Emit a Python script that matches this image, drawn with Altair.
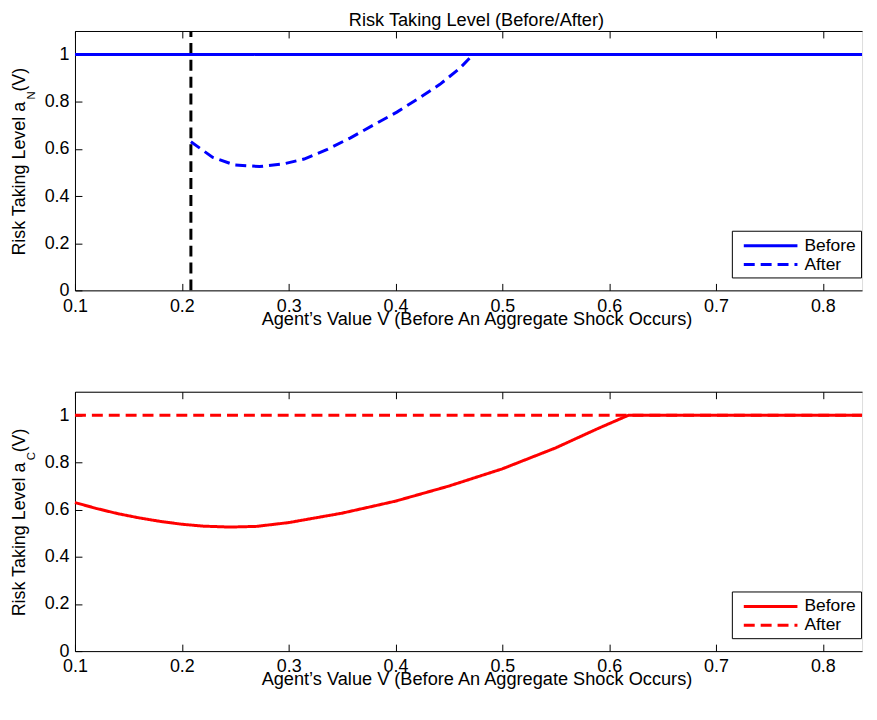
import altair as alt
import pandas as pd

FONT = "Liberation Sans"

# ---------------- data ----------------
x_ticks = [0.1, 0.2, 0.3, 0.4, 0.5, 0.6, 0.7, 0.8]
y_ticks = [0, 0.2, 0.4, 0.6, 0.8, 1]
X_DOMAIN = [0.1, 0.8367]
Y_DOMAIN = [0, 1.1]
series_order = ["Before", "After"]

# top panel (N)
top_before_x = [0.1, 0.8367]
top_before_y = [1.0, 1.0]
top_after_x = [0.2085, 0.229, 0.2494, 0.2727, 0.2959, 0.3145, 0.3362, 0.3579,
               0.3796, 0.4013, 0.4230, 0.4416, 0.4602, 0.4726, 0.8367]
top_after_y = [0.630, 0.564, 0.532, 0.525, 0.537, 0.557, 0.598, 0.647,
               0.702, 0.756, 0.818, 0.874, 0.942, 1.0, 1.0]
shock_x = [0.2085]

# bottom panel (C)
bot_before_x = [0.10, 0.12, 0.14, 0.16, 0.18, 0.20, 0.22, 0.245, 0.27, 0.30,
                0.35, 0.40, 0.45, 0.50, 0.55, 0.59, 0.618, 0.8367]
bot_before_y = [0.630, 0.605, 0.583, 0.565, 0.550, 0.538, 0.530, 0.526, 0.529, 0.545,
                0.585, 0.636, 0.700, 0.773, 0.862, 0.945, 1.0, 1.0]
bot_after_x = [0.1, 0.8367]
bot_after_y = [1.0, 1.0]

x_title = "Agent\u2019s Value V (Before An Aggregate Shock Occurs)"
main_title = "Risk Taking Level (Before/After)"

W, H = 792, 261
TICK = 7
TICK_FS = 18
TITLE_FS = 18.3


def frame(before_x, before_y, after_x, after_y):
    rows = []
    for x, y in zip(before_x, before_y):
        rows.append({"x": x, "y": y, "series": "Before"})
    for x, y in zip(after_x, after_y):
        rows.append({"x": x, "y": y, "series": "After"})
    return pd.DataFrame(rows)


def panel(df, color, sub, vline=None, title=None):
    xs = alt.Scale(domain=X_DOMAIN, nice=False, zero=False)
    ys = alt.Scale(domain=Y_DOMAIN, nice=False, zero=False)

    leg = alt.Legend(
        title=None, orient="none", legendX=661, legendY=H - 60, direction="vertical",
        strokeColor="black", fillColor="white", padding=4.5, cornerRadius=0,
        labelFont=FONT, labelFontSize=17.5, labelColor="black",
        symbolType="M-3,0H3", symbolSize=324, symbolStrokeWidth=3,
        symbolOffset=24, labelOffset=23.5, rowPadding=0,
    )

    lines = alt.Chart(df).mark_line(strokeWidth=3).encode(
        x=alt.X("x:Q", scale=xs, axis=None),
        y=alt.Y("y:Q", scale=ys, axis=None),
        color=alt.Color("series:N", scale=alt.Scale(domain=series_order, range=[color, color]), legend=leg),
        strokeDash=alt.StrokeDash("series:N", scale=alt.Scale(domain=series_order, range=[[1, 0], [11, 6]]), legend=leg),
    )

    # labelled axes with the bottom and left border lines
    label_axes = alt.Chart(df).mark_line(opacity=0).encode(
        x=alt.X("x:Q", scale=xs, axis=alt.Axis(
            orient="bottom", values=x_ticks, format="~g", ticks=False, tickSize=0,
            domain=True, domainColor="black", domainWidth=1, grid=False,
            labelFlush=False, labelOverlap=False,
            labelFont=FONT, labelFontSize=TICK_FS, labelColor="black", labelPadding=7,
            title=x_title, titleFont=FONT, titleFontSize=TITLE_FS, titleFontWeight="normal",
            titleColor="black", titleBaseline="top", titleY=20, titleX=404, titleAlign="center")),
        y=alt.Y("y:Q", scale=ys, axis=alt.Axis(
            orient="left", values=y_ticks, format="~g", ticks=False, tickSize=0,
            domain=True, domainColor="black", domainWidth=1, grid=False,
            labelFlush=False, labelOverlap=False,
            labelFont=FONT, labelFontSize=TICK_FS, labelColor="black", labelPadding=6, title=None)),
    )

    def tick_axis(orient):
        return alt.Axis(orient=orient, offset=-TICK, tickSize=TICK, ticks=True, tickColor="black",
                        tickWidth=1, labels=False, domain=False, grid=False, title=None,
                        minExtent=0, maxExtent=0,
                        values=x_ticks if orient in ("top", "bottom") else y_ticks)

    # inward ticks on bottom and left
    ticks_bl = alt.Chart(df).mark_line(opacity=0).encode(
        x=alt.X("x:Q", scale=xs, axis=tick_axis("bottom")),
        y=alt.Y("y:Q", scale=ys, axis=tick_axis("left")),
    )
    # inward ticks on top
    ticks_t = alt.Chart(df).mark_line(opacity=0).encode(
        x=alt.X("x:Q", scale=xs, axis=tick_axis("top")),
        y=alt.Y("y:Q", scale=ys, axis=None),
    )
    # top border line
    top_border = alt.Chart(df).mark_line(opacity=0).encode(
        x=alt.X("x:Q", scale=xs, axis=alt.Axis(
            orient="top", values=x_ticks, ticks=False, labels=False, domain=True, domainColor="black",
            domainWidth=1, grid=False, title=None, minExtent=0, maxExtent=0)),
        y=alt.Y("y:Q", scale=ys, axis=None),
    )

    def txt(label, size, x, y, angle=270, align="left", baseline="alphabetic"):
        return alt.Chart(pd.DataFrame({"t": [label]})).mark_text(
            angle=angle, align=align, baseline=baseline, font=FONT, fontSize=size, color="black"
        ).encode(text="t:N", x=alt.value(x), y=alt.value(y))

    texts = [
        txt("Risk Taking Level a", 18, -50.5, 226),
        txt(sub, 11.5, -40, 69),
        txt("(V)", 18, -50.5, 61),
    ]
    if title is not None:
        texts.append(txt(title, TITLE_FS, 404, -19, angle=0, align="center", baseline="top"))

    layers = [label_axes, ticks_bl, ticks_t, top_border]
    if vline is not None:
        vdf = pd.DataFrame({"x": vline, "y0": [0.0] * len(vline), "y1": [1.1] * len(vline)})
        layers.append(alt.Chart(vdf).mark_rule(color="black", strokeWidth=3, strokeDash=[11, 6]).encode(
            x=alt.X("x:Q", scale=xs, axis=None),
            y=alt.Y("y0:Q", scale=ys, axis=None),
            y2="y1:Q",
        ))
    layers.append(lines)
    layers += texts

    return alt.layer(*layers).resolve_axis(x="independent", y="independent").properties(width=W, height=H)


top = panel(frame(top_before_x, top_before_y, top_after_x, top_after_y), "#0000ff", "N",
            vline=shock_x, title=main_title)
bottom = panel(frame(bot_before_x, bot_before_y, bot_after_x, bot_after_y), "#ff0000", "C")

chart = alt.vconcat(top, bottom, spacing=63).resolve_scale(
    x="independent", y="independent", color="independent", strokeDash="independent"
).resolve_axis(x="independent", y="independent").resolve_legend(
    color="independent", strokeDash="independent"
).properties(
    padding={"left": 1.4, "top": 0, "right": 0, "bottom": 0}
).configure_view(stroke=None).configure(background="white")

chart.save("out.html", embed_options={"renderer": "svg", "actions": False})
